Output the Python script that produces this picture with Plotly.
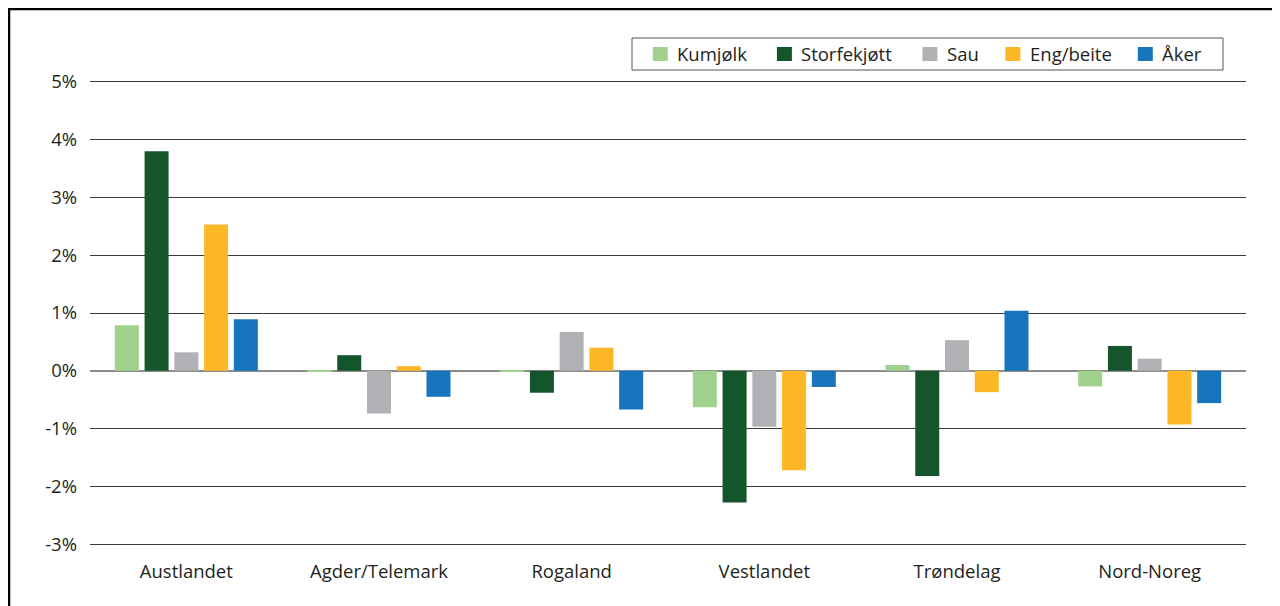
import plotly.graph_objects as go

categories = ["Austlandet", "Agder/Telemark", "Rogaland", "Vestlandet", "Trøndelag", "Nord-Noreg"]
series_names = ["Kumjølk", "Storfekjøtt", "Sau", "Eng/beite", "Åker"]
kumjolk = [0.79, -0.01, -0.01, -0.63, 0.10, -0.27]
storfekjott = [3.80, 0.27, -0.38, -2.28, -1.82, 0.43]
sau = [0.32, -0.74, 0.67, -0.97, 0.53, 0.21]
eng_beite = [2.53, 0.08, 0.40, -1.72, -0.37, -0.93]
aker = [0.89, -0.45, -0.67, -0.28, 1.04, -0.56]
tick_vals = [-3, -2, -1, 0, 1, 2, 3, 4, 5]
tick_text = ["-3%", "-2%", "-1%", "0%", "1%", "2%", "3%", "4%", "5%"]

colors = ["#A0D28E", "#14552C", "#B1B2B5", "#FDB827", "#1775BD"]
values = [kumjolk, storfekjott, sau, eng_beite, aker]

FONT = "Open Sans, DejaVu Sans, sans-serif"
TXT = "#231f20"
FS = 18.5

# figure sits at an 8px body offset in the page
W, H = 1272, 598
ml, mr, mt, mb = 82, 34, 71, 59
pw = W - ml - mr
ph = H - mt - mb


def xp(x):
    return (x - ml) / pw


def yp(y):
    return 1 - (y - mt) / ph


fig = go.Figure()
for name, vals, col in zip(series_names, values, colors):
    fig.add_trace(go.Bar(x=categories, y=vals, name=name, marker_color=col,
                         marker_line_width=0, showlegend=False))

# custom legend (box, swatches, labels)
legend_sq_x = [644.8, 768.9, 914.4, 997.4, 1129.8]
shapes = [dict(type="rect", xref="paper", yref="paper",
               x0=xp(624), x1=xp(1215), y0=yp(62), y1=yp(30),
               line=dict(color="#555555", width=1), fillcolor="white",
               layer="above")]
annotations = []
for sx, name, col in zip(legend_sq_x, series_names, colors):
    shapes.append(dict(type="rect", xref="paper", yref="paper",
                       x0=xp(sx), x1=xp(sx + 15), y0=yp(53), y1=yp(39),
                       line=dict(width=0), fillcolor=col, layer="above"))
    annotations.append(dict(xref="paper", yref="paper", x=xp(sx + 22.5), y=yp(46),
                            xanchor="left", yanchor="middle", showarrow=False,
                            text=name, font=dict(family=FONT, size=FS, color=TXT)))

# outer frame
shapes.append(dict(type="rect", xref="paper", yref="paper",
                   x0=xp(1), x1=xp(W + 20), y0=yp(H + 20), y1=yp(1),
                   line=dict(color="black", width=2.5), layer="above"))

fig.update_layout(
    width=W, height=H,
    margin=dict(l=ml, r=mr, t=mt, b=mb, pad=0),
    paper_bgcolor="white", plot_bgcolor="white",
    barmode="group", bargap=0.228, bargroupgap=0.193,
    font=dict(family=FONT, size=FS, color=TXT),
    showlegend=False,
    xaxis=dict(showgrid=False, showline=False, ticks="", ticklabelstandoff=11,
               tickfont=dict(size=FS, color=TXT)),
    yaxis=dict(range=[-3.05, 5.05], tickvals=tick_vals, ticktext=tick_text,
               showgrid=True, gridcolor="#383838", gridwidth=1.2,
               zeroline=True, zerolinecolor="#8c8c8c", zerolinewidth=2,
               showline=False, ticks="", ticklabelstandoff=12,
               tickfont=dict(size=FS, color=TXT)),
    shapes=shapes,
    annotations=annotations,
)

fig.write_html("out.html")
